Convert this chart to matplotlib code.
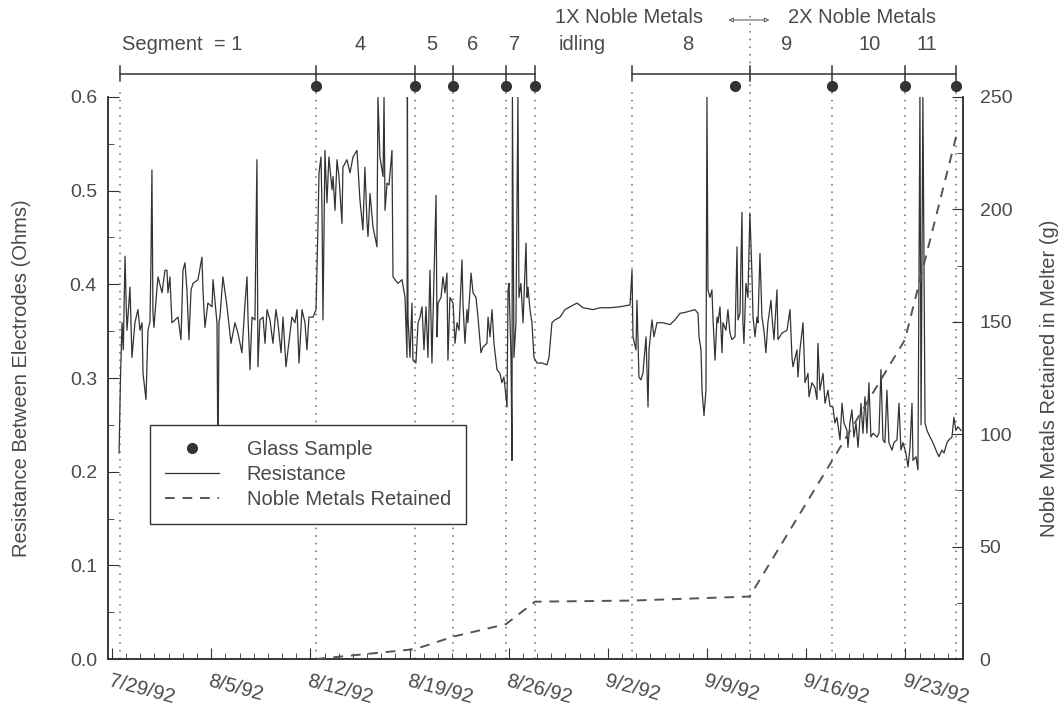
import matplotlib
matplotlib.use('Agg')
import matplotlib.pyplot as plt
from matplotlib.lines import Line2D

plt.rcParams['font.family'] = ['Liberation Sans', 'DejaVu Sans']
plt.rcParams['font.size'] = 14.5

# days since 7/29/92, resistance (ohms)
resistance = [
 (0.50,0.22),(0.60,0.30),(0.71,0.359),(0.80,0.33),(0.92,0.43),(1.00,0.38),(1.06,0.351),
 (1.27,0.397),(1.41,0.322),(1.62,0.359),(1.83,0.373),(1.98,0.351),(2.12,0.359),(2.19,0.305),
 (2.40,0.277),(2.54,0.351),(2.68,0.36),(2.75,0.423),(2.82,0.522),(2.89,0.37),(2.96,0.354),
 (3.18,0.397),(3.25,0.408),(3.53,0.391),(3.74,0.415),(3.88,0.415),(3.95,0.391),(4.09,0.408),
 (4.23,0.359),(4.45,0.362),(4.66,0.365),(4.87,0.341),(5.01,0.415),(5.15,0.423),(5.29,0.394),
 (5.43,0.341),(5.58,0.394),(5.72,0.401),(6.07,0.405),(6.35,0.429),(6.42,0.394),(6.56,0.354),
 (6.77,0.380),(7.06,0.376),(7.13,0.405),(7.41,0.359),(7.48,0.20),(7.55,0.36),(7.62,0.365),
 (7.83,0.408),(8.12,0.376),(8.40,0.337),(8.68,0.359),(8.89,0.348),(9.17,0.327),(9.39,0.380),
 (9.53,0.408),(9.60,0.365),(9.74,0.309),(9.88,0.365),(10.09,0.362),(10.23,0.533),(10.30,0.312),
 (10.44,0.362),(10.66,0.365),(10.80,0.337),(10.94,0.373),(11.15,0.362),(11.36,0.337),(11.57,0.373),
 (11.71,0.359),(11.93,0.327),(12.07,0.365),(12.28,0.312),(12.42,0.330),(12.70,0.365),(12.91,0.359),
 (13.06,0.373),(13.20,0.316),(13.41,0.373),(13.62,0.359),(13.76,0.330),(13.90,0.365),(14.19,0.365),
 (14.40,0.373),(14.54,0.465),(14.61,0.519),(14.75,0.536),(14.82,0.483),(14.89,0.362),(15.03,0.543),
 (15.17,0.487),(15.31,0.536),(15.53,0.501),(15.60,0.515),(15.74,0.479),(15.88,0.533),(16.02,0.515),
 (16.23,0.465),(16.30,0.525),(16.58,0.533),(16.80,0.519),(17.01,0.536),(17.29,0.543),(17.36,0.525),
 (17.50,0.490),(17.71,0.458),(17.85,0.525),(18.00,0.465),(18.07,0.451),(18.21,0.497),(18.42,0.461),
 (18.56,0.451),(18.70,0.440),(18.77,0.600),(18.91,0.536),(19.13,0.515),(19.20,0.600),(19.27,0.479),
 (19.41,0.508),(19.55,0.506),(19.76,0.543),(19.83,0.408),(19.97,0.405),(20.18,0.401),(20.47,0.405),
 (20.68,0.386),(20.82,0.322),(20.85,0.600),(20.89,0.365),(21.03,0.322),(21.17,0.380),(21.24,0.319),
 (21.45,0.316),(21.60,0.359),(21.74,0.365),(21.88,0.376),(22.02,0.330),(22.16,0.376),(22.30,0.322),
 (22.44,0.415),(22.58,0.316),(22.65,0.362),(22.87,0.495),(22.94,0.344),(23.01,0.380),(23.22,0.386),
 (23.36,0.408),(23.50,0.391),(23.64,0.412),(23.71,0.319),(23.85,0.386),(24.07,0.380),(24.21,0.337),
 (24.35,0.359),(24.49,0.351),(24.70,0.426),(24.77,0.380),(24.91,0.337),(25.05,0.373),(25.12,0.359),
 (25.34,0.412),(25.48,0.391),(25.69,0.386),(25.83,0.365),(26.04,0.327),(26.18,0.333),(26.46,0.337),
 (26.54,0.365),(26.68,0.344),(26.82,0.373),(26.96,0.337),(27.17,0.309),(27.38,0.305),(27.52,0.295),
 (27.66,0.301),(27.88,0.269),(27.95,0.394),(28.02,0.401),(28.16,0.322),(28.23,0.212),(28.26,0.600),
 (28.37,0.322),(28.51,0.359),(28.65,0.600),(28.72,0.386),(28.86,0.401),(29.01,0.359),(29.22,0.444),
 (29.29,0.386),(29.36,0.397),(29.50,0.373),(29.64,0.359),(29.78,0.322),(29.99,0.316),(30.35,0.316),
 (30.70,0.314),(30.84,0.322),(31.05,0.359),(31.26,0.362),(31.62,0.365),(31.97,0.373),(32.32,0.376),
 (32.82,0.380),(33.24,0.375),(33.95,0.373),(34.44,0.375),(35.15,0.375),(35.85,0.376),(36.56,0.378),
 (36.70,0.415),(36.77,0.344),(36.98,0.330),(37.05,0.383),(37.19,0.301),(37.33,0.298),(37.47,0.305),
 (37.69,0.344),(37.83,0.269),(37.90,0.330),(38.11,0.362),(38.25,0.344),(38.46,0.359),(38.89,0.359),
 (39.38,0.357),(39.73,0.362),(40.08,0.369),(40.44,0.370),(41.14,0.373),(41.36,0.369),(41.43,0.344),
 (41.57,0.330),(41.64,0.287),(41.78,0.260),(41.92,0.287),(41.99,0.600),(42.06,0.394),(42.20,0.386),
 (42.34,0.394),(42.41,0.365),(42.56,0.319),(42.70,0.365),(42.77,0.359),(42.91,0.376),(43.05,0.327),
 (43.12,0.359),(43.33,0.351),(43.47,0.373),(43.61,0.348),(43.75,0.341),(43.97,0.344),(44.11,0.440),
 (44.18,0.362),(44.32,0.369),(44.46,0.477),(44.53,0.359),(44.60,0.337),(44.74,0.401),(44.88,0.386),
 (45.02,0.476),(45.17,0.408),(45.24,0.365),(45.38,0.344),(45.52,0.365),(45.59,0.359),(45.73,0.433),
 (45.87,0.365),(46.01,0.351),(46.15,0.327),(46.29,0.359),(46.51,0.383),(46.58,0.365),(46.72,0.341),
 (46.93,0.394),(47.00,0.341),(47.28,0.348),(47.64,0.351),(47.85,0.373),(47.99,0.322),(48.06,0.312),
 (48.34,0.330),(48.41,0.301),(48.55,0.330),(48.77,0.359),(48.91,0.295),(49.12,0.305),(49.19,0.280),
 (49.40,0.295),(49.61,0.290),(49.75,0.277),(49.82,0.337),(49.96,0.287),(50.18,0.305),(50.32,0.273),
 (50.53,0.287),(50.67,0.270),(50.88,0.269),(51.02,0.252),(51.16,0.258),(51.38,0.234),(51.52,0.273),
 (51.66,0.252),(51.87,0.244),(51.94,0.226),(52.08,0.252),(52.22,0.266),(52.36,0.237),(52.51,0.252),
 (52.65,0.226),(52.86,0.273),(53.00,0.241),(53.14,0.280),(53.28,0.241),(53.42,0.295),(53.56,0.237),
 (53.71,0.241),(53.99,0.237),(54.13,0.241),(54.27,0.309),(54.41,0.234),(54.55,0.231),(54.69,0.287),
 (54.83,0.231),(55.05,0.223),(55.19,0.231),(55.40,0.234),(55.54,0.273),(55.68,0.223),(55.82,0.231),
 (56.03,0.220),(56.18,0.205),(56.32,0.226),(56.46,0.273),(56.53,0.212),(56.74,0.216),(56.88,0.202),
 (57.02,0.600),(57.10,0.250),(57.23,0.600),(57.38,0.252),(57.52,0.244),(57.73,0.237),(57.94,0.231),
 (58.15,0.223),(58.36,0.216),(58.57,0.223),(58.72,0.220),(58.93,0.231),(59.07,0.234),(59.28,0.237),
 (59.42,0.258),(59.56,0.244),(59.70,0.248),(59.92,0.244),
]
res_day = [p[0] for p in resistance]
res_ohm = [p[1] for p in resistance]

noble_day = [14.4, 21.4, 24.1, 27.8, 29.85, 36.7, 45.0, 50.8, 55.96, 59.6]
noble_g = [0, 4.4, 10, 15.5, 25.5, 26, 27.8, 88, 142, 233]

bar1_nodes = [0.56, 14.4, 21.4, 24.1, 27.8, 29.85]
bar2_nodes = [36.7, 45.0, 50.8, 55.96, 59.56]
sample_days = [14.4, 21.4, 24.1, 27.8, 29.85, 44.0, 50.8, 55.96, 59.56]

seg_labels = ['4', '5', '6', '7', 'idling', '8', '9', '10', '11']
seg_pos = [17.5, 22.57, 25.47, 28.44, 33.17, 40.65, 47.64, 53.5, 57.5]

date_ticks = [0, 7, 14, 21, 28, 35, 42, 49, 56]
date_labels = ['7/29/92', '8/5/92', '8/12/92', '8/19/92', '8/26/92',
               '9/2/92', '9/9/92', '9/16/92', '9/23/92']

txt = '#4a4a4a'
ink = '#333333'

fig = plt.figure(figsize=(10.6, 7.11), dpi=100)
ax = fig.add_axes([0.1019, 0.0731, 0.8066, 0.7905])
ax2 = ax.twinx()

ax.plot(res_day, res_ohm, color=ink, lw=0.9, zorder=3)
ax2.plot(noble_day, noble_g, color='#555555', lw=1.4, dashes=(5, 4), zorder=3)

for d in bar1_nodes + bar2_nodes:
    top = 1.15 if d == 45.0 else 1.012
    ax.plot([d, d], [0, top], transform=ax.get_xaxis_transform(), clip_on=False,
            color='#666666', lw=1.1, linestyle=(0, (1, 4)), zorder=1)

# header: segment bars, ticks and sample dots
xt = ax.get_xaxis_transform()
for nodes in (bar1_nodes, bar2_nodes):
    ax.plot([nodes[0], nodes[-1]], [1.041, 1.041], transform=xt, clip_on=False, color=ink, lw=1.1)
    for d in nodes:
        ax.plot([d, d], [1.028, 1.056], transform=xt, clip_on=False, color=ink, lw=1.1)
ax.plot(sample_days, [1.0196] * len(sample_days), 'o', transform=xt, clip_on=False,
        color=ink, ms=7)

ax.text(0.71, 1.094, 'Segment  = 1', transform=xt, ha='left', va='center', color=txt)
for s, p in zip(seg_labels, seg_pos):
    ax.text(p, 1.094, s, transform=xt, ha='center', va='center', color=txt)
ax.text(36.5, 1.142, '1X Noble Metals', transform=xt, ha='center', va='center', color=txt)
ax.text(52.9, 1.142, '2X Noble Metals', transform=xt, ha='center', va='center', color=txt)
ax.annotate('', xy=(46.6, 1.137), xytext=(43.3, 1.137), xycoords=xt, textcoords=xt,
            arrowprops=dict(arrowstyle='<|-|>', color='#666666', lw=0.8,
                            mutation_scale=7, fc='white'))

ax.set_xlim(-0.28, 60.06)
ax.set_ylim(0, 0.6)
ax2.set_ylim(0, 250)

ax.set_yticks([0, 0.1, 0.2, 0.3, 0.4, 0.5, 0.6])
ax.set_yticklabels(['0.0', '0.1', '0.2', '0.3', '0.4', '0.5', '0.6'])
ax.set_yticks([0.05, 0.15, 0.25, 0.35, 0.45, 0.55], minor=True)
ax2.set_yticks([0, 50, 100, 150, 200, 250])
ax2.set_yticks([25, 75, 125, 175, 225], minor=True)
ax.set_xticks(date_ticks)
ax.set_xticks(range(0, 60), minor=True)
ax.set_xticklabels(date_labels, rotation=-15, ha='left', rotation_mode='anchor', fontsize=14.5)

for a in (ax, ax2):
    a.tick_params(which='both', direction='in', color=ink, labelcolor=txt)
    a.tick_params(axis='y', labelsize=14)
    a.tick_params(which='major', length=8)
    a.tick_params(which='minor', length=4)
    a.spines['top'].set_visible(False)
    for s in a.spines.values():
        s.set_color(ink)
        s.set_linewidth(1.1)
ax.tick_params(axis='x', pad=9)
ax.tick_params(axis='y', pad=8)
ax2.tick_params(axis='y', pad=12)

ax.set_ylabel('Resistance Between Electrodes (Ohms)', color=txt, fontsize=14.5, labelpad=28)
ax2.set_ylabel('Noble Metals Retained in Melter (g)', color=txt, fontsize=14.5, labelpad=20,
               rotation=90)

handles = [Line2D([], [], marker='o', ls='none', color=ink, ms=7),
           Line2D([], [], color=ink, lw=0.9),
           Line2D([], [], color='#555555', lw=1.4, dashes=(5, 4))]
leg = ax2.legend(handles, ['Glass Sample', 'Resistance', 'Noble Metals Retained'],
                 loc='lower left', bbox_to_anchor=(0.049, 0.24), fancybox=False,
                 framealpha=1, edgecolor=ink, handlelength=2.7, handletextpad=1.35,
                 labelspacing=0.3, borderpad=0.75, fontsize=14.5, borderaxespad=0)
for t in leg.get_texts():
    t.set_color(txt)
leg.get_frame().set_linewidth(1.0)
leg.set_zorder(10)

fig.savefig('out.png', dpi=100)
